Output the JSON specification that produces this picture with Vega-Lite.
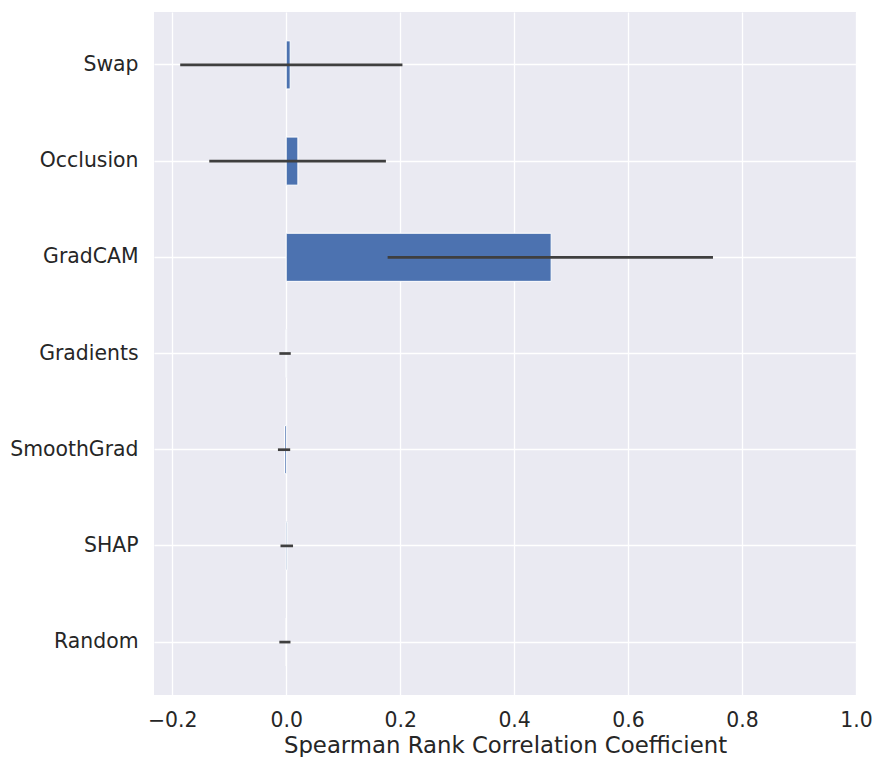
{
  "$schema": "https://vega.github.io/schema/vega-lite/v6.json",
  "autosize": "none",
  "width": 702,
  "height": 683,
  "padding": {"left": 154, "top": 12, "right": 17, "bottom": 62},
  "background": "white",
  "config": {
    "view": {"fill": "#EAEAF2", "stroke": null},
    "axis": {
      "domain": false,
      "ticks": false,
      "gridColor": "white",
      "gridWidth": 1.3,
      "labelFont": "DejaVu Sans",
      "labelFontSize": 20.4,
      "labelColor": "#262626",
      "titleFont": "DejaVu Sans",
      "titleFontSize": 22.8,
      "titleFontWeight": "normal",
      "titleColor": "#262626"
    }
  },
  "data": {
    "values": [
      {"method": "Swap", "mean": 0.007, "lo": -0.186, "hi": 0.204},
      {"method": "Occlusion", "mean": 0.0205, "lo": -0.135, "hi": 0.175},
      {"method": "GradCAM", "mean": 0.465, "lo": 0.178, "hi": 0.749},
      {"method": "Gradients", "mean": -0.0005, "lo": -0.012, "hi": 0.008},
      {"method": "SmoothGrad", "mean": -0.003, "lo": -0.0145, "hi": 0.007},
      {"method": "SHAP", "mean": 0.002, "lo": -0.01, "hi": 0.012},
      {"method": "Random", "mean": 0.0, "lo": -0.012, "hi": 0.0075}
    ]
  },
  "encoding": {
    "y": {
      "field": "method",
      "type": "nominal",
      "sort": null,
      "scale": {"paddingInner": 0.5, "paddingOuter": 0.3},
      "axis": {"title": null, "grid": true, "bandPosition": 0.5, "labelPadding": 16}
    }
  },
  "layer": [
    {
      "mark": {"type": "bar", "color": "#4C72B0", "stroke": "white", "strokeWidth": 1},
      "encoding": {
        "x": {
          "field": "mean",
          "type": "quantitative",
          "scale": {"domain": [-0.232, 1.0], "nice": false, "zero": false},
          "axis": {
            "title": "Spearman Rank Correlation Coefficient",
            "values": [-0.2, 0, 0.2, 0.4, 0.6, 0.8, 1.0],
            "format": ".1f",
            "labelFlush": false,
            "labelPadding": 15,
            "titlePadding": 4
          }
        }
      }
    },
    {
      "mark": {"type": "rule", "color": "#3f3f3f", "strokeWidth": 2.7},
      "encoding": {
        "x": {"field": "lo", "type": "quantitative"},
        "x2": {"field": "hi"}
      }
    }
  ]
}
